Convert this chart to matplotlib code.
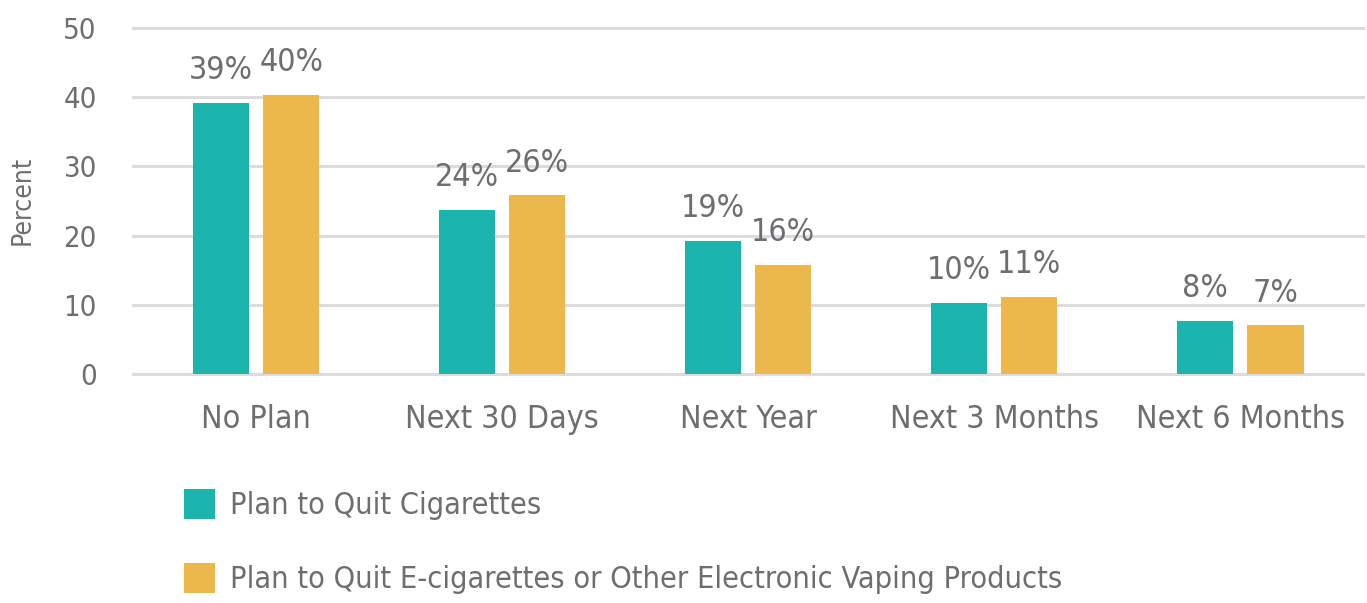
import matplotlib.pyplot as plt
import numpy as np

categories = ['No Plan', 'Next 30 Days', 'Next Year', 'Next 3 Months', 'Next 6 Months']
cigarettes = [39.2, 23.7, 19.2, 10.3, 7.7]
ecigarettes = [40.3, 25.8, 15.8, 11.1, 7.0]
cig_labels = ['39%', '24%', '19%', '10%', '8%']
ecig_labels = ['40%', '26%', '16%', '11%', '7%']
series_names = ['Plan to Quit Cigarettes',
                'Plan to Quit E-cigarettes or Other Electronic Vaping Products']
yticks = [0, 10, 20, 30, 40, 50]

teal = '#1bb5ad'
gold = '#edb84b'
text_gray = '#6d6e71'
grid_gray = '#dcdcdc'

plt.rcParams['font.family'] = ['DejaVu Sans']
plt.rcParams['font.stretch'] = 'condensed'

fig = plt.figure(figsize=(13.67, 6.03), dpi=100)
ax = fig.add_axes([0.0973, 0.38, 0.9, 0.5736])

x = np.arange(len(categories))
w = 0.228
b1 = ax.bar(x - 0.143, cigarettes, w, color=teal, label=series_names[0], zorder=3)
b2 = ax.bar(x + 0.143, ecigarettes, w, color=gold, label=series_names[1], zorder=3)

# value labels on top of each bar
for bars, labels in [(b1, cig_labels), (b2, ecig_labels)]:
    for rect, lab in zip(bars, labels):
        ax.annotate(lab, (rect.get_x() + rect.get_width() / 2, rect.get_height()),
                    xytext=(0, 12), textcoords='offset points',
                    ha='center', va='bottom', fontsize=23, color=text_gray)

ax.set_xlim(-0.5, 4.5)
ax.set_ylim(0, 50)
ax.set_yticks(yticks)
ax.set_xticks(x)
ax.set_xticklabels(categories)
ax.tick_params(axis='y', length=0, pad=26, labelsize=21, labelcolor=text_gray)
ax.tick_params(axis='x', length=0, pad=22, labelsize=23, labelcolor=text_gray)
ax.set_ylabel('Percent', fontsize=19, color=text_gray, labelpad=20)
ax.grid(axis='y', color=grid_gray, linewidth=2.2, zorder=0)
for line in ax.get_ygridlines():
    line.set_clip_on(False)
ax.set_axisbelow(True)
for s in ax.spines.values():
    s.set_visible(False)

fig.legend(handles=[b1, b2], loc='upper left', bbox_to_anchor=(0.126, 0.21),
           frameon=False, fontsize=22, labelcolor=text_gray,
           handlelength=1.0, handleheight=1.15, handletextpad=0.5,
           labelspacing=1.4, borderaxespad=0)

fig.savefig('out.png', dpi=100)
